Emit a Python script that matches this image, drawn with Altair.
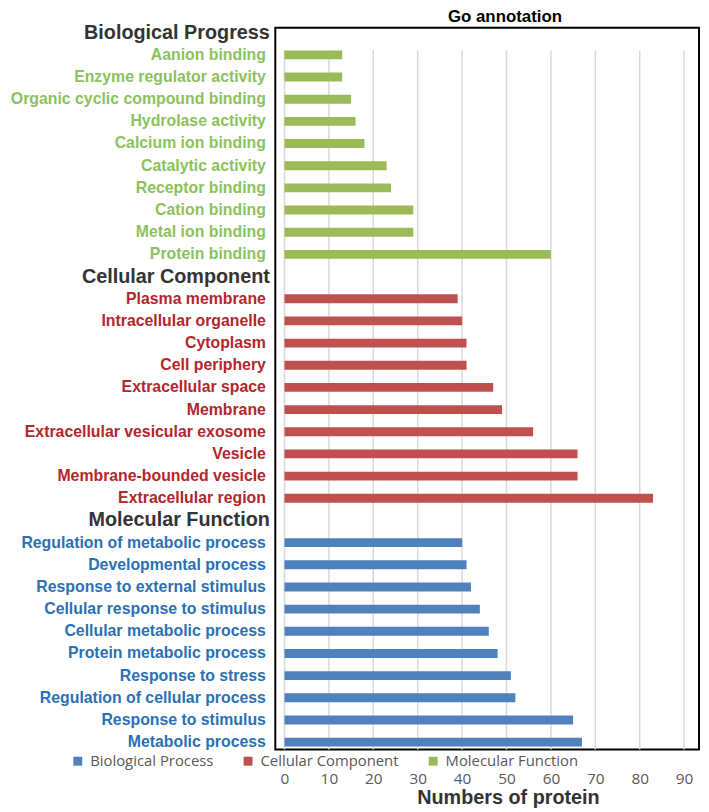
import json
import altair as alt
import pandas as pd

headers = ["Biological Progress", "Cellular Component", "Molecular Function"]

mf_terms = ["Aanion binding", "Enzyme regulator activity", "Organic cyclic compound binding",
            "Hydrolase activity", "Calcium ion binding", "Catalytic activity", "Receptor binding",
            "Cation binding", "Metal ion binding", "Protein binding"]
mf_counts = [13, 13, 15, 16, 18, 23, 24, 29, 29, 60]

cc_terms = ["Plasma membrane", "Intracellular organelle", "Cytoplasm", "Cell periphery",
            "Extracellular space", "Membrane", "Extracellular vesicular exosome", "Vesicle",
            "Membrane-bounded vesicle", "Extracellular region"]
cc_counts = [39, 40, 41, 41, 47, 49, 56, 66, 66, 83]

bp_terms = ["Regulation of metabolic process", "Developmental process", "Response to external stimulus",
            "Cellular response to stimulus", "Cellular metabolic process", "Protein metabolic process",
            "Response to stress", "Regulation of cellular process", "Response to stimulus",
            "Metabolic process"]
bp_counts = [40, 41, 42, 44, 46, 48, 51, 52, 65, 67]

series_names = ["Biological Process", "Cellular Component", "Molecular Function"]
bar_colors = ["#4f81bd", "#c0504d", "#9bbb59"]
label_green = "#8cc25d"
label_red = "#b3262c"
label_blue = "#2a70b4"
header_color = "#333333"
x_ticks = list(range(0, 100, 10))

rows = []
for t, c in zip(mf_terms, mf_counts):
    rows.append({"term": t, "count": c, "series": "Molecular Function"})
for t, c in zip(cc_terms, cc_counts):
    rows.append({"term": t, "count": c, "series": "Cellular Component"})
for t, c in zip(bp_terms, bp_counts):
    rows.append({"term": t, "count": c, "series": "Biological Process"})
df = pd.DataFrame(rows)
grid_df = pd.DataFrame({"tick": x_ticks})

y_order = [headers[0]] + mf_terms + [headers[1]] + cc_terms + [headers[2]] + bp_terms


def in_list(lst):
    return "indexof(" + json.dumps(lst) + ", datum.value) >= 0"


label_color = {
    "condition": [
        {"test": in_list(headers), "value": header_color},
        {"test": in_list(mf_terms), "value": label_green},
        {"test": in_list(cc_terms), "value": label_red},
    ],
    "value": label_blue,
}
label_size = {"condition": {"test": in_list(headers), "value": 20}, "value": 16}
label_pad = {"condition": {"test": in_list(headers), "value": 6}, "value": 10}

x_scale = alt.Scale(domain=[-2.07, 93.36], nice=False)
y_scale = alt.Scale(domain=y_order, range=[-6.3, 732.7], paddingInner=0.6, paddingOuter=0.3)

x_axis = alt.Axis(
    values=x_ticks, title="Numbers of protein", grid=False, domain=False, ticks=False,
    labelFont="Open Sans", labelFontSize=15.5, labelColor="#595959", labelPadding=22,
    titleFont="Liberation Sans", titleFontSize=20, titleFontWeight="bold", titleColor="#333333",
    titleX=235, titleY=48, titleBaseline="middle", titleAlign="center",
)
y_axis = alt.Axis(
    title=None, domain=False, ticks=False, grid=False, labelLimit=0,
    labelFont="Liberation Sans", labelFontWeight="bold",
    labelFontSize=label_size, labelColor=label_color, labelPadding=label_pad,
)

grid = alt.Chart(grid_df).mark_rule(color="#d9d9d9", strokeWidth=1.5).encode(
    x=alt.X("tick:Q", scale=x_scale, axis=x_axis),
    y=alt.YDatum(datum=mf_terms[0], bandPosition=0, scale=y_scale, axis=y_axis),
    y2=alt.value("height"),
)

bars = alt.Chart(df).mark_bar().encode(
    x=alt.X("count:Q", scale=x_scale, axis=x_axis),
    y=alt.Y("term:N", sort=y_order, scale=y_scale, axis=y_axis),
    color=alt.Color(
        "series:N",
        scale=alt.Scale(domain=series_names, range=bar_colors),
        legend=alt.Legend(
            orient="none", legendX=-207, legendY=733, direction="horizontal", title=None,
            symbolType="square", symbolSize=81, symbolStrokeWidth=0, labelFont="Open Sans",
            labelFontSize=15, labelColor="#595959", columnPadding=27, labelOffset=5,
            padding=0, columns=3,
        ),
    ),
)

chart = alt.layer(grid, bars).properties(
    width=428,
    height=729,
    background="white",
    autosize=alt.AutoSizeParams(type="none"),
    padding={"left": 270, "top": 16, "right": 2, "bottom": 57},
    title=alt.Title(
        "Go annotation", font="Liberation Sans", fontSize=17, fontWeight="bold", color="#000000",
        anchor="middle", frame="group", dx=18, dy=21, offset=4, baseline="alphabetic",
    ),
).configure_view(
    stroke="black", strokeWidth=2
)

chart.save("out.html", embed_options={"renderer": "svg", "actions": False})
